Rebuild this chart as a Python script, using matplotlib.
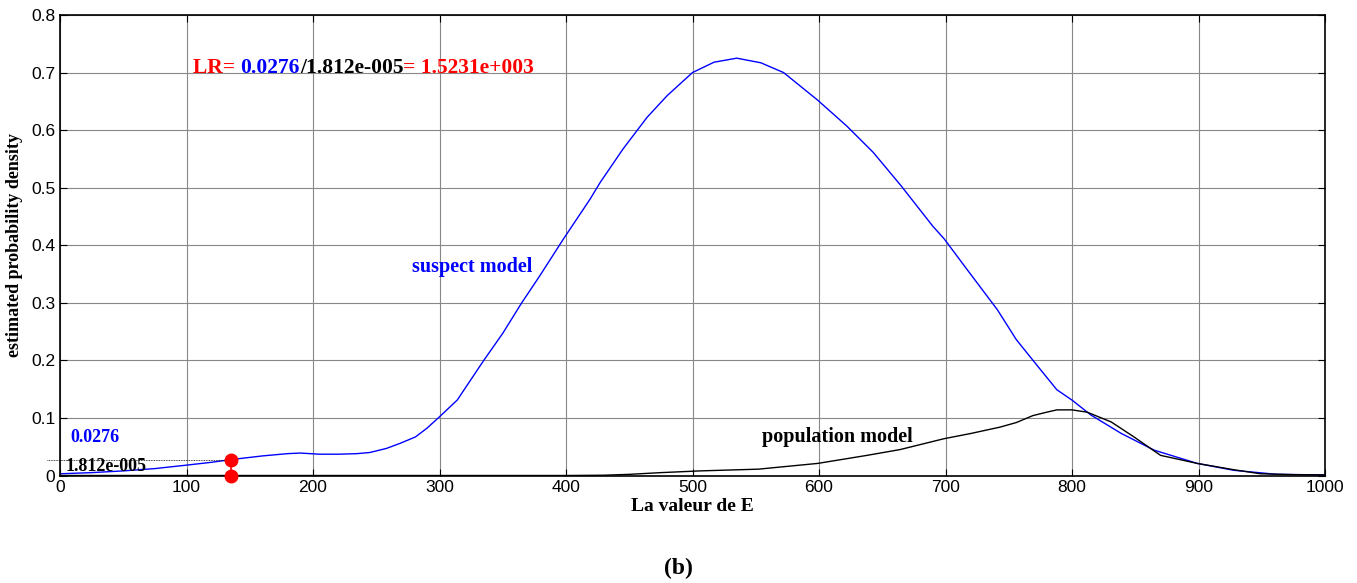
import matplotlib
matplotlib.use("Agg")
import matplotlib.pyplot as plt

# data
x_suspect = [0, 25, 50, 75, 100, 120, 135, 160, 180, 190, 205, 220, 235, 245, 258, 269, 281, 290, 299,
             314, 335, 350, 365, 379, 398, 419, 427, 445, 464, 480, 500, 517, 535, 554, 572, 599,
             622, 643, 665, 690, 699, 717, 741, 756, 771, 788, 800, 815, 839, 865, 899, 928,
             962, 1000]
y_suspect = [0.003, 0.005, 0.008, 0.012, 0.018, 0.023, 0.0276, 0.034, 0.038, 0.039, 0.037, 0.037, 0.038,
             0.040, 0.047, 0.056, 0.067, 0.082, 0.100, 0.131, 0.200, 0.247, 0.300, 0.346, 0.411,
             0.480, 0.509, 0.567, 0.622, 0.660, 0.700, 0.718, 0.725, 0.717, 0.700, 0.652, 0.607,
             0.561, 0.503, 0.433, 0.411, 0.358, 0.288, 0.236, 0.195, 0.149, 0.131, 0.105, 0.073,
             0.044, 0.021, 0.009, 0.002, 0.001]
x_pop = [0, 100, 200, 300, 400, 430, 450, 475, 506, 552, 599, 638, 664, 699, 720, 743, 756, 769, 780,
         788, 800, 812, 831, 849, 870, 899, 928, 949, 975, 1000]
y_pop = [0, 0, 0, 0, 0, 0.0005, 0.002, 0.005, 0.008, 0.011, 0.021, 0.035, 0.045, 0.064, 0.073, 0.084,
         0.092, 0.104, 0.110, 0.114, 0.114, 0.110, 0.093, 0.067, 0.035, 0.021, 0.010, 0.003, 0.0015, 0.001]
E_value = 135
p_suspect = 0.0276
p_pop = 1.812e-05
x_ticks = [0, 100, 200, 300, 400, 500, 600, 700, 800, 900, 1000]
y_ticks = [0, 0.1, 0.2, 0.3, 0.4, 0.5, 0.6, 0.7, 0.8]
y_ticklabels = ["0", "0.1", "0.2", "0.3", "0.4", "0.5", "0.6", "0.7", "0.8"]

serif = "Liberation Serif"
sans = "Liberation Sans"

fig = plt.figure(figsize=(13.57, 5.83), dpi=100)
ax = fig.add_axes([60/1357, 107.5/583, 1265/1357, 460.5/583])

ax.plot(x_suspect, y_suspect, color="blue", lw=1.0)
ax.plot(x_pop, y_pop, color="black", lw=1.0)

ax.plot([-10, E_value], [p_suspect, p_suspect], color="black", lw=0.6, ls=(0, (1, 1)), clip_on=False)
ax.plot([E_value, E_value], [0, p_suspect], color="red", lw=1.2)
ax.plot([E_value, E_value], [0, p_suspect], "o", color="red", ms=9, clip_on=False, zorder=5)

ax.set_xlim(0, 1000)
ax.set_ylim(0, 0.8)
ax.set_xticks(x_ticks)
ax.set_yticks(y_ticks)
ax.set_yticklabels(y_ticklabels)
ax.grid(True, color="#888888", lw=0.8)
ax.tick_params(direction="in", length=5, labelsize=12.5, top=True, right=True)
for lab in ax.get_xticklabels() + ax.get_yticklabels():
    lab.set_fontfamily(sans)
for s in ax.spines.values():
    s.set_linewidth(1.2)

ax.set_xlabel("La valeur de E", fontfamily=serif, fontweight="bold", fontsize=14, labelpad=2)
ax.set_ylabel("estimated probability density", fontfamily=serif, fontweight="bold", fontsize=13, labelpad=6)

ax.text(8, 0.066, "0.0276", color="blue", fontfamily=serif, fontweight="bold", fontsize=13, va="center")
ax.text(4, 0.016, "1.812e-005", color="black", fontfamily=serif, fontweight="bold", fontsize=13, va="center")

ax.text(278, 0.362, "suspect model", color="blue", fontfamily=serif, fontweight="bold", fontsize=14.5, va="center")
ax.text(555, 0.067, "population model", color="black", fontfamily=serif, fontweight="bold", fontsize=14.5, va="center")

# LR text composed of pieces
fig.canvas.draw()
r = fig.canvas.get_renderer()
pieces = [("LR= ", "red"), ("0.0276", "blue"), ("/1.812e-005", "black"), ("= 1.5231e+003", "red")]
xpix = 193
ypix = 583 - 68
for txt, col in pieces:
    t = fig.text(xpix/1357, ypix/583, txt, color=col, fontfamily=serif, fontweight="bold", fontsize=15.5, va="center")
    bb = t.get_window_extent(renderer=r)
    xpix += bb.width

fig.text(0.5, (583-568)/583, "(b)", ha="center", va="center", fontfamily=serif, fontweight="bold", fontsize=17)

fig.savefig("out.png", dpi=100)
